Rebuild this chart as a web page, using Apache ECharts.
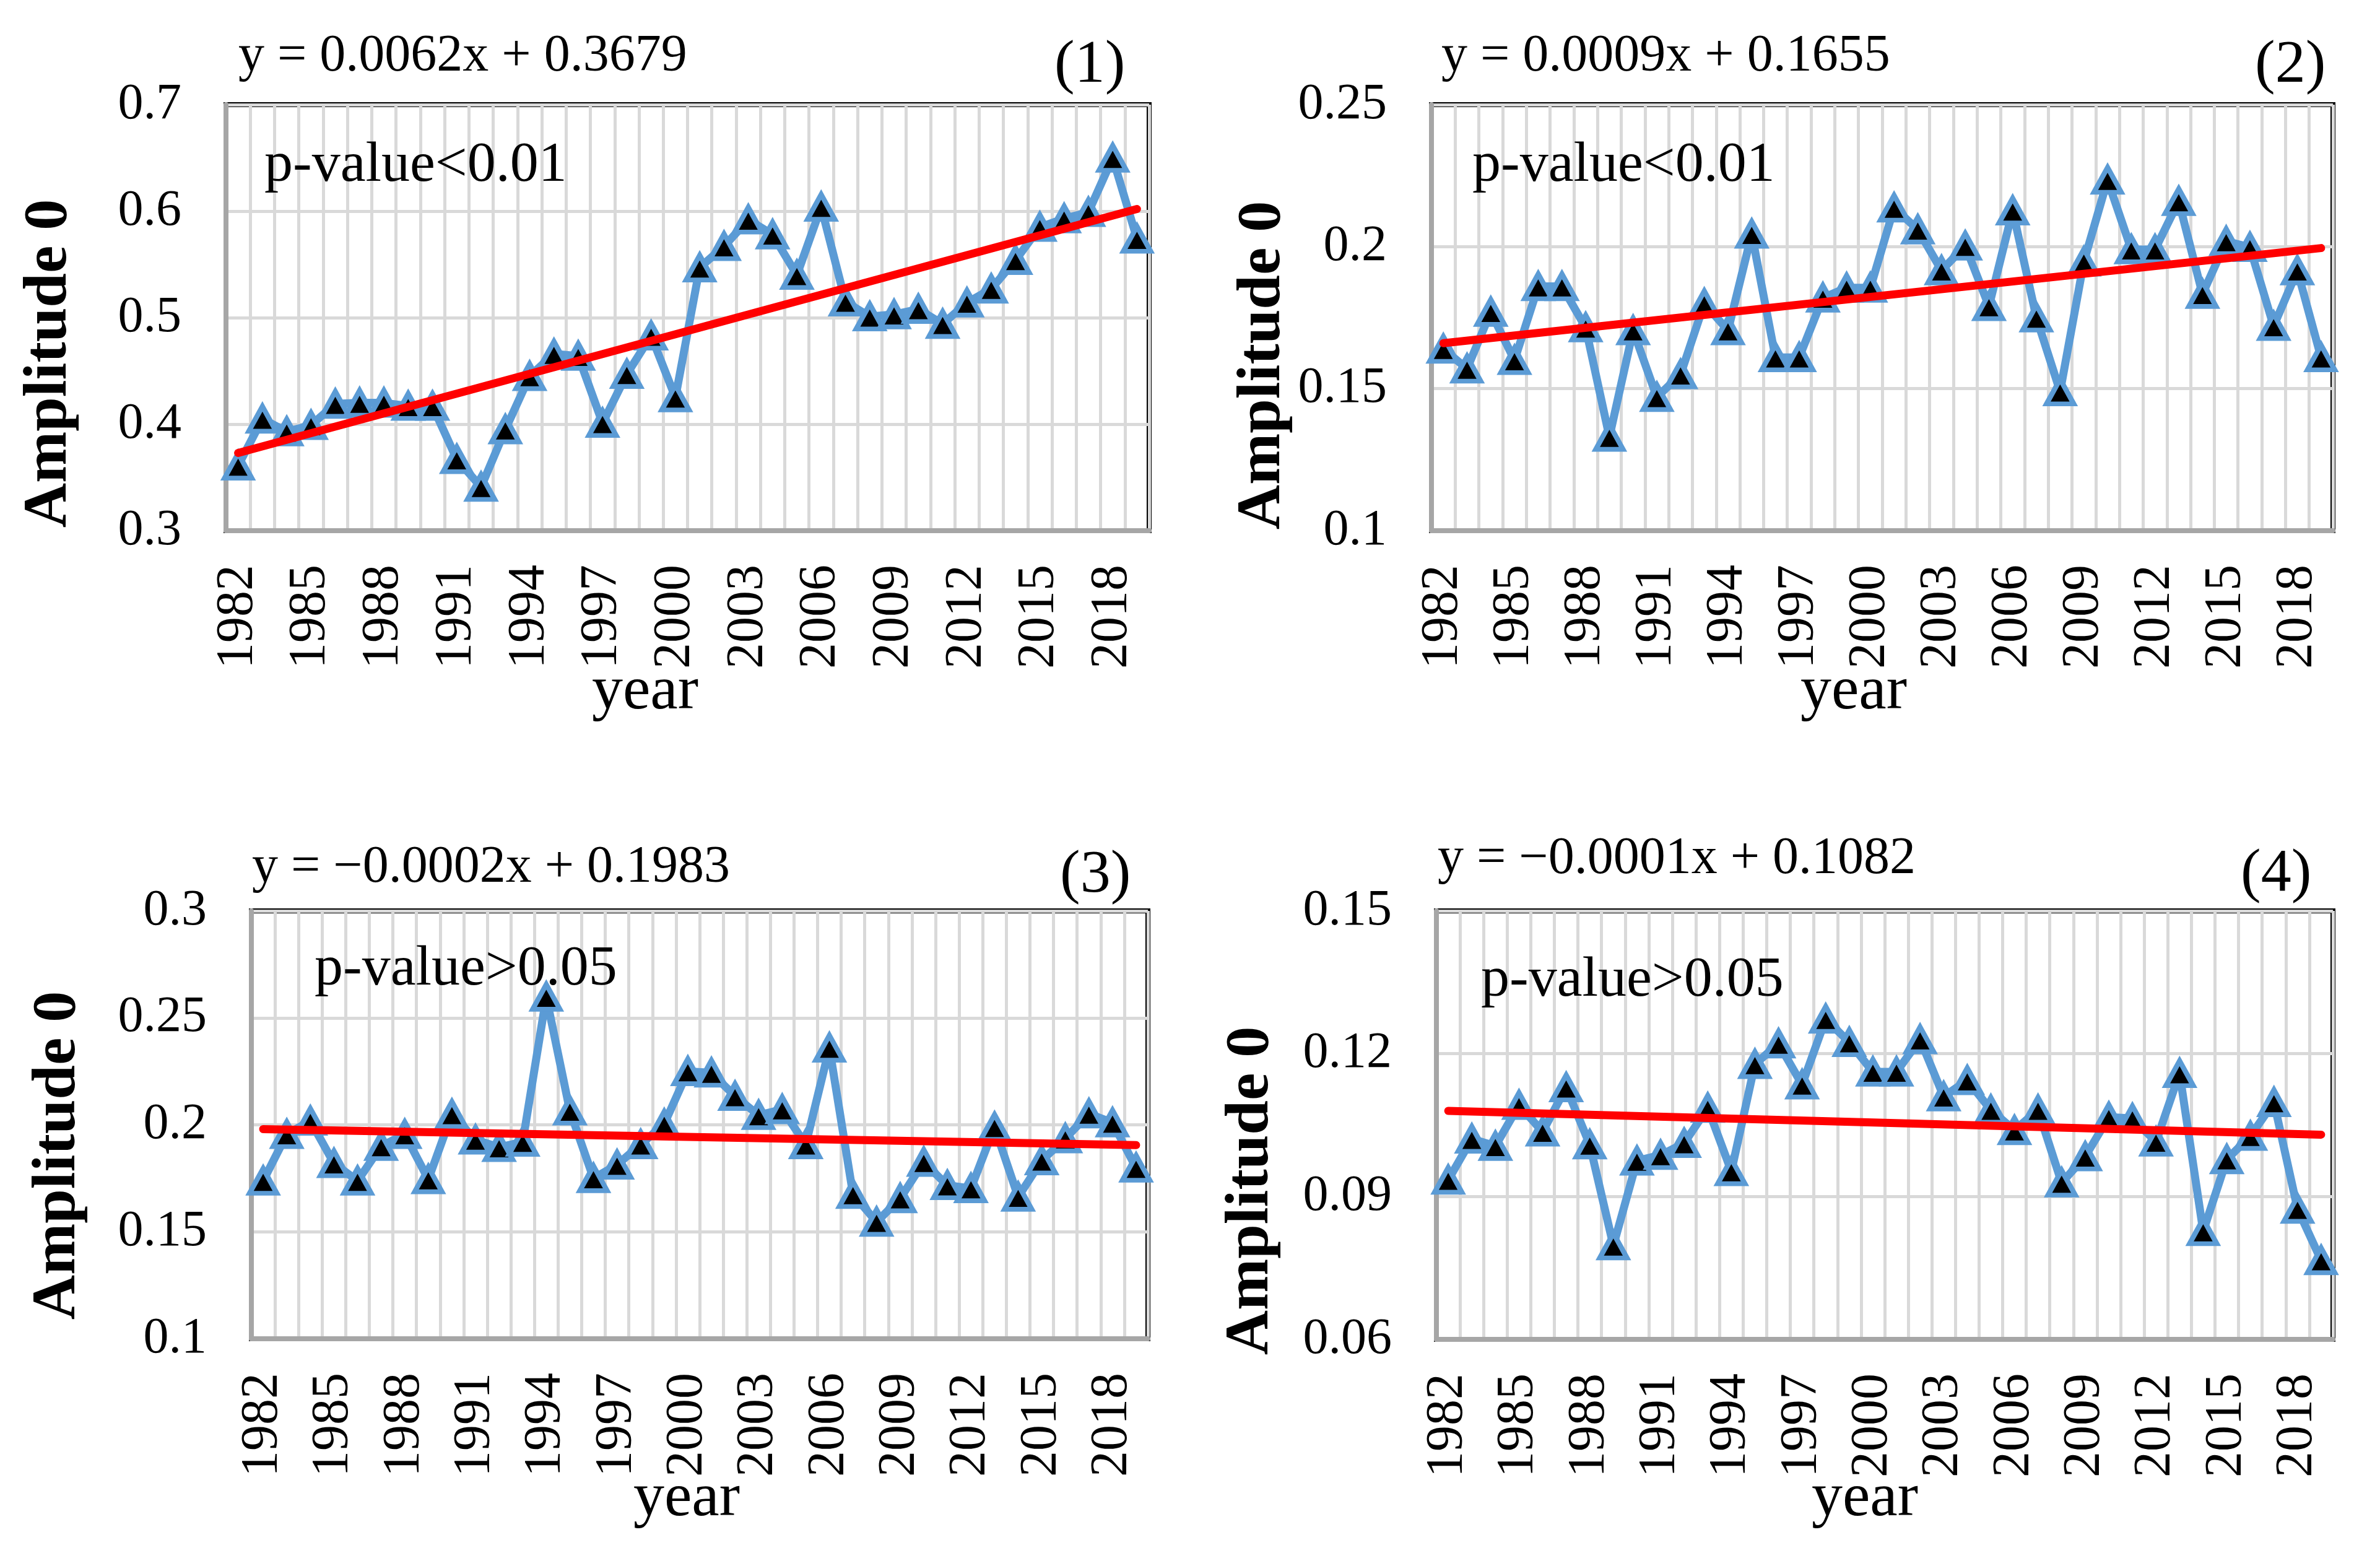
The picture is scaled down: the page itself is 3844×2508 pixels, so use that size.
<!DOCTYPE html>
<html>
<head>
<meta charset="utf-8">
<script src="https://cdn.jsdelivr.net/npm/echarts@6/dist/echarts.min.js"></script>
<style>
html,body{margin:0;padding:0;background:#fff;}
#chart{width:3844px;height:2508px;}
</style>
</head>
<body>
<div id="chart"></div>
<script>
// ---------- DATA ----------
var years = ['1982','1983','1984','1985','1986','1987','1988','1989','1990','1991',
             '1992','1993','1994','1995','1996','1997','1998','1999','2000','2001',
             '2002','2003','2004','2005','2006','2007','2008','2009','2010','2011',
             '2012','2013','2014','2015','2016','2017','2018','2019'];

var amp1 = [0.361,0.405,0.393,0.399,0.419,0.420,0.420,0.417,0.417,0.367,0.341,0.395,0.445,0.466,0.464,0.401,0.447,0.483,
            0.425,0.547,0.567,0.592,0.578,0.540,0.604,0.515,0.501,0.503,0.508,0.494,0.514,0.527,0.554,0.585,0.593,0.599,0.650,0.574];
var amp2 = [0.164,0.157,0.177,0.160,0.186,0.186,0.1715,0.133,0.1705,0.147,0.155,0.180,0.1705,0.2045,0.161,0.161,0.182,0.1855,
            0.1855,0.2137,0.206,0.1916,0.2003,0.179,0.2127,0.175,0.149,0.1947,0.2235,0.199,0.199,0.216,0.1833,0.2019,0.1998,0.172,0.1916,0.161];
var amp3 = [0.1738,0.1956,0.2018,0.182,0.1738,0.190,0.1956,0.1745,0.205,0.193,0.1895,0.192,0.2598,0.2066,0.175,0.1813,0.1908,0.2004,
            0.225,0.2243,0.2134,0.2045,0.2072,0.1908,0.236,0.1676,0.1546,0.1656,0.1826,0.1717,0.1703,0.199,0.1663,0.1833,0.1936,0.2052,0.201,0.1799];
var amp4 = [0.0935,0.1021,0.1006,0.1092,0.1036,0.1129,0.1009,0.0797,0.0975,0.0987,0.1012,0.1086,0.0953,0.1178,0.1221,0.1135,0.1273,0.1224,
            0.1162,0.1162,0.123,0.111,0.1144,0.1082,0.1039,0.1082,0.0929,0.0984,0.1067,0.1064,0.1015,0.1159,0.0827,0.0978,0.1027,0.1098,0.0874,0.0766];

// trend line end values (first year, last year)
var trend1 = [0.373, 0.602];
var trend2 = [0.166, 0.1995];
var trend3 = [0.198, 0.1905];
var trend4 = [0.108, 0.103];

var equations = ['y = 0.0062x + 0.3679', 'y = 0.0009x + 0.1655', 'y = \u22120.0002x + 0.1983', 'y = \u22120.0001x + 0.1082'];
var panelTags = ['(1)', '(2)', '(3)', '(4)'];
var pTexts = ['p-value<0.01', 'p-value<0.01', 'p-value>0.05', 'p-value>0.05'];
var yMin = [0.3, 0.1, 0.1, 0.06];
var yMax = [0.7, 0.25, 0.3, 0.15];
var yStep = [0.1, 0.05, 0.05, 0.03];
var yTitle = 'Amplitude 0';
var xTitle = 'year';

// ---------- LAYOUT ----------
var FONT = '"Liberation Serif", "Times New Roman", serif';
var grids = [
  {left: 365,  top: 169,  width: 1491, height: 688},
  {left: 2312, top: 169,  width: 1456, height: 688},
  {left: 406,  top: 1471, width: 1448, height: 691},
  {left: 2320, top: 1471, width: 1448, height: 692}
];
var txt = [
  {eq:[385,92],  tag:[1703,106], p:[427,268],  yt:[80,587],    xt:[1042,1118]},
  {eq:[2328,92], tag:[3642,106], p:[2378,268], yt:[2040,590],  xt:[2994,1118]},
  {eq:[407,1402],tag:[1712,1414],p:[508,1566], yt:[94,1866],   xt:[1109,2421]},
  {eq:[2322,1388],tag:[3619,1412],p:[2392,1584],yt:[2021,1923],xt:[3012,2421]}
];
var amps = [amp1, amp2, amp3, amp4];
var trends = [trend1, trend2, trend3, trend4];

var option = {
  backgroundColor: '#fff',
  animation: false,
  grid: [], xAxis: [], yAxis: [], series: [], graphic: []
};

for (var i = 0; i < 4; i++) {
  var g = grids[i];
  option.grid.push({left: g.left, top: g.top, width: g.width, height: g.height,
    show: true, borderColor: '#000', borderWidth: 8, backgroundColor: 'transparent'});
  option.xAxis.push({
    type: 'category', gridIndex: i, data: years, boundaryGap: true,
    axisLine: {show: true, lineStyle: {color: '#a6a6a6', width: 8}},
    axisTick: {show: false},
    splitLine: {show: true, interval: 0, lineStyle: {color: '#d9d9d9', width: 5}},
    axisLabel: {interval: 2, rotate: 90, margin: 55, fontFamily: FONT, fontSize: 84, color: '#000'}
  });
  option.yAxis.push({
    type: 'value', gridIndex: i, min: yMin[i], max: yMax[i], interval: yStep[i],
    axisLine: {show: true, lineStyle: {color: '#a6a6a6', width: 8}},
    axisTick: {show: false},
    splitLine: {show: true, lineStyle: {color: '#d9d9d9', width: 5}},
    axisLabel: {margin: 72, fontFamily: FONT, fontSize: 82, color: '#000',
      formatter: function (v) { return String(parseFloat(v.toFixed(2))); }}
  });
  option.series.push({
    type: 'line', xAxisIndex: i, yAxisIndex: i, data: amps[i], z: 3,
    lineStyle: {color: '#5b9bd5', width: 13},
    symbol: 'triangle', symbolSize: [44, 40],
    showSymbol: true, showAllSymbol: true,
    itemStyle: {color: '#000', borderColor: '#5b9bd5', borderWidth: 8}
  });
  var td = years.map(function () { return null; });
  td[0] = trends[i][0];
  td[years.length - 1] = trends[i][1];
  option.series.push({
    type: 'line', xAxisIndex: i, yAxisIndex: i, data: td, connectNulls: true, z: 4,
    symbol: 'none', lineStyle: {color: '#ff0000', width: 13, cap: 'round'}
  });
  var t = txt[i];
  option.graphic.push(
    {type: 'text', x: t.eq[0], y: t.eq[1], style: {text: equations[i], font: '84px ' + FONT, fill: '#000', align: 'left', verticalAlign: 'middle'}},
    {type: 'text', x: t.tag[0], y: t.tag[1], style: {text: panelTags[i], font: '98px ' + FONT, fill: '#000', align: 'left', verticalAlign: 'middle'}},
    {type: 'text', x: t.p[0], y: t.p[1], z: 10, style: {text: pTexts[i], font: '92px ' + FONT, fill: '#000', align: 'left', verticalAlign: 'middle'}},
    {type: 'text', x: t.yt[0], y: t.yt[1], rotation: Math.PI / 2, style: {text: yTitle, font: 'bold 100px ' + FONT, fill: '#000', align: 'center', verticalAlign: 'middle'}},
    {type: 'text', x: t.xt[0], y: t.xt[1], style: {text: xTitle, font: '100px ' + FONT, fill: '#000', align: 'center', verticalAlign: 'middle'}}
  );
}

var chart = echarts.init(document.getElementById('chart'), null, {renderer: 'canvas'});
chart.setOption(option);
</script>
</body>
</html>
